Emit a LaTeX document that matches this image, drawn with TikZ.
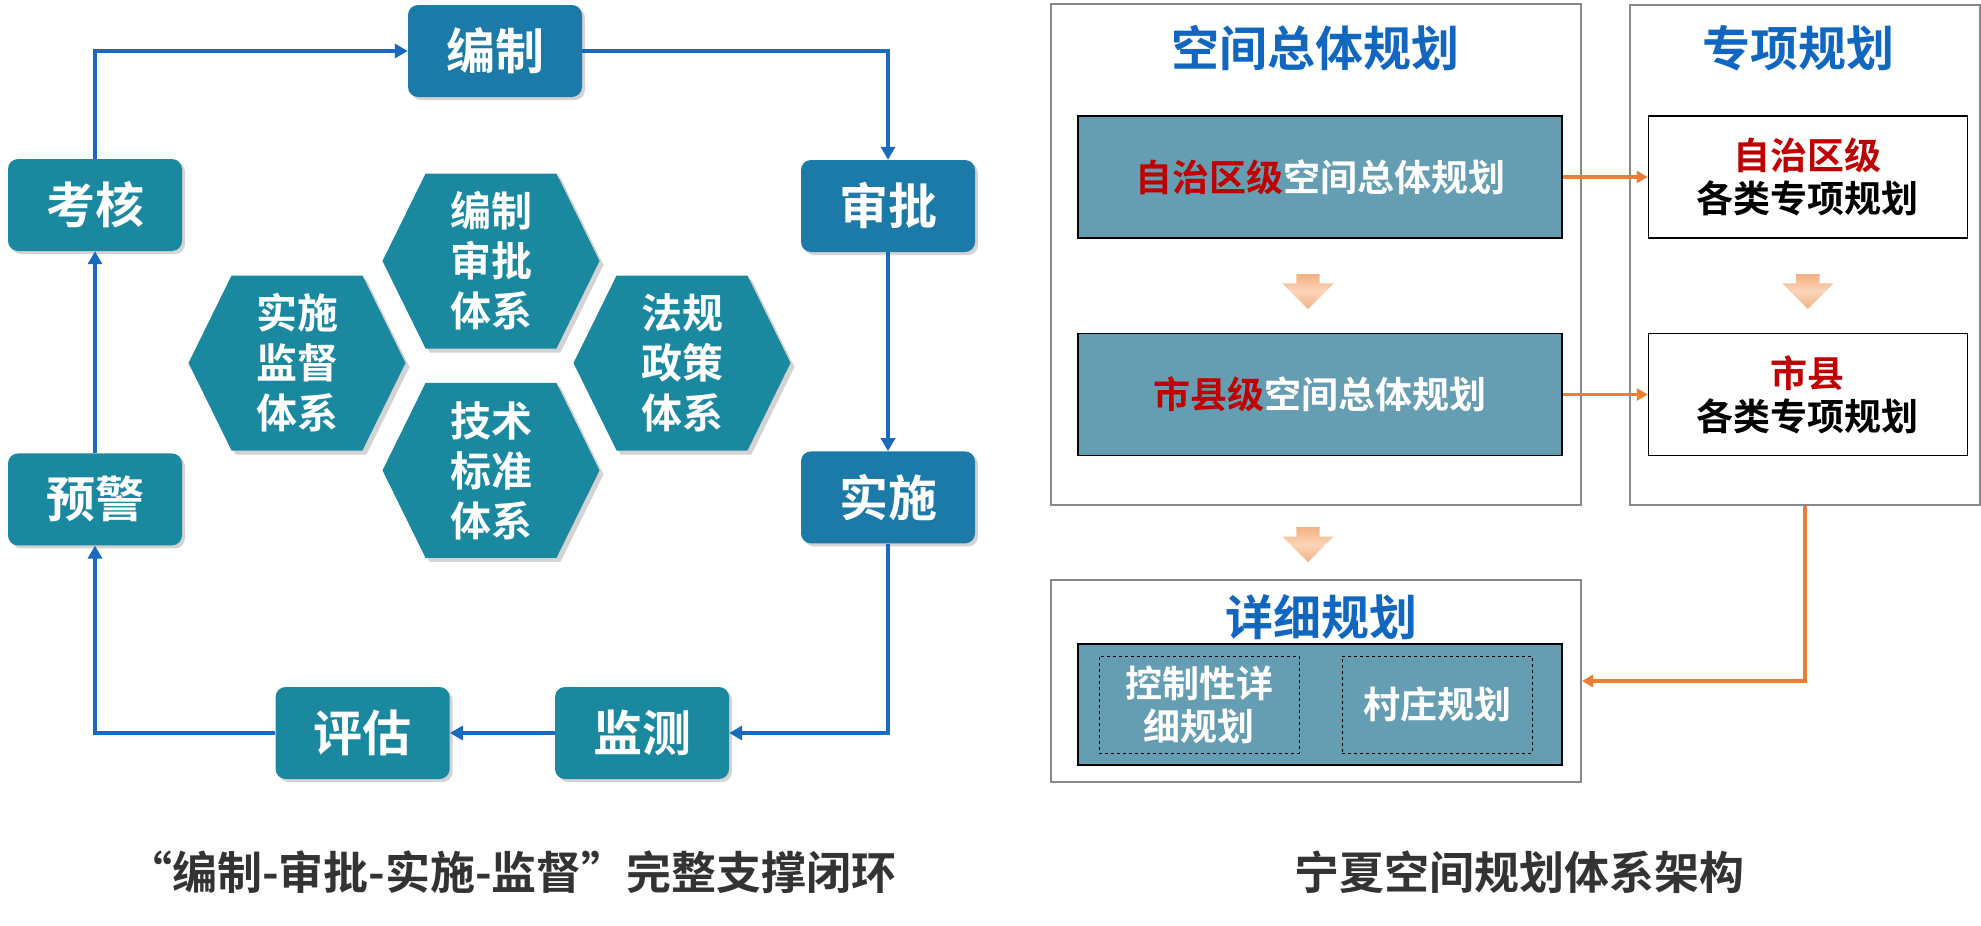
\documentclass[tikz,border=0pt]{standalone}
\usepackage{fontspec}
\setmainfont{Noto Sans CJK SC}[BoldFont={* Bold}]
\usepackage{tikz}
\usetikzlibrary{arrows.meta,positioning,shapes.symbols,shapes.arrows,shadows,calc}
\definecolor{stageblue}{RGB}{27,122,168}
\definecolor{stageteal}{RGB}{26,137,160}
\definecolor{loopblue}{RGB}{25,105,190}
\definecolor{titleblue}{RGB}{17,102,192}
\definecolor{planteal}{RGB}{101,158,178}
\definecolor{darkred}{RGB}{192,0,0}
\definecolor{accentorange}{RGB}{237,125,49}
\definecolor{lightorange}{RGB}{244,177,131}
\definecolor{paleorange}{RGB}{250,212,185}
\definecolor{framegray}{RGB}{136,136,136}
\definecolor{captiongray}{RGB}{51,51,51}

\begin{document}
\begin{tikzpicture}[x=1pt, y=-1pt,
    stage/.style={rounded corners=10pt, fill=stageteal, minimum width=174pt, minimum height=92pt, text=white, font=\fontsize{49}{56}\selectfont\bfseries, drop shadow={shadow xshift=3pt, shadow yshift=-3pt, opacity=0.35}},
    keystage/.style={stage, fill=stageblue},
    hexa/.style={signal, signal to=east and west, signal pointer angle=127.6, fill=stageteal, minimum width=217pt, minimum height=175pt, inner sep=0pt, text=white, align=center, font=\fontsize{41}{50}\selectfont\bfseries, drop shadow={shadow xshift=4pt, shadow yshift=-4pt, opacity=0.35}},
    loopflow/.style={-{Triangle[length=13pt, width=14pt]}, line width=4pt, loopblue},
    branchflow/.style={-{Triangle[length=11pt, width=12pt]}, line width=3.5pt, accentorange},
    frame/.style={draw=framegray, line width=2pt},
    paneltitle/.style={text=titleblue, font=\fontsize{48}{48}\selectfont\bfseries},
    planbox/.style={draw=black, line width=1.5pt, fill=planteal, minimum width=484pt, minimum height=122pt, text=white, font=\fontsize{37}{44}\selectfont\bfseries},
    specbox/.style={draw=black, line width=1.2pt, fill=white, minimum width=319pt, minimum height=122pt, align=center, font=\fontsize{37}{43}\selectfont\bfseries},
    subbox/.style={draw=black, dashed, line width=0.8pt, minimum height=97pt, text=white, align=center, font=\fontsize{37}{43}\selectfont\bfseries},
    downarrow/.style={single arrow, rotate=-90, minimum height=35pt, inner xsep=0pt, inner ysep=11.5pt, single arrow head extend=14pt, single arrow head indent=0pt, top color=lightorange, bottom color=lightorange, middle color=paleorange},
    caption/.style={text=captiongray, font=\fontsize{45}{45}\selectfont\bfseries}
]
    \useasboundingbox (0,0) rectangle (1981,926);

    % closed loop
    \node[keystage] (bianzhi) at (495,51) {编制};
    \node[keystage] (shenpi) at (888,206) {审批};
    \node[keystage, below=199pt of shenpi] (shishi) {实施};
    \node[stage] (jiance) at (642,733) {监测};
    \node[stage, left=105pt of jiance] (pinggu) {评估};
    \node[stage] (kaohe) at (95,205) {考核};
    \node[stage, below=202pt of kaohe] (yujing) {预警};

    \draw[loopflow] (kaohe.north) |- (bianzhi.west);
    \draw[loopflow] (bianzhi.east) -| (shenpi.north);
    \draw[loopflow] (shenpi) -- (shishi);
    \draw[loopflow] (shishi.south) |- (jiance.east);
    \draw[loopflow] (jiance) -- (pinggu);
    \draw[loopflow] (pinggu.west) -| (yujing.south);
    \draw[loopflow] (yujing) -- (kaohe);

    \node[hexa] (hxtop) at (491,261) {编制\\审批\\体系};
    \node[hexa, below=34pt of hxtop] (hxbot) {技术\\标准\\体系};
    \node[hexa] (hxleft) at (297,363) {实施\\监督\\体系};
    \node[hexa] (hxright) at (682,363) {法规\\政策\\体系};

    % planning system
    \node[frame, minimum width=530pt, minimum height=501pt] (kjzt) at (1316,254.5) {};
    \node[frame, minimum width=350pt, minimum height=500pt] (zxgh) at (1805,255) {};
    \node[frame, minimum width=530pt, minimum height=202pt] (xxgh) at (1316,681) {};

    \node[paneltitle] (kjztname) at (1315,48) {空间总体规划};
    \node[paneltitle] (zxghname) at (1798,48) {专项规划};
    \node[paneltitle] (xxghname) at (1321,617) {详细规划};

    \node[planbox] (zzq) at (1320,177) {{\color{darkred}自治区级}空间总体规划};
    \node[planbox, below=94pt of zzq] (sxj) {{\color{darkred}市县级}空间总体规划};
    \node[specbox, right=85pt of zzq] (zxzzq) {{\color{darkred}自治区级}\\各类专项规划};
    \node[specbox, right=85pt of sxj] (zxsx) {{\color{darkred}市县}\\各类专项规划};

    \node[downarrow] (down1) at ($(zzq.south)!0.5!(sxj.north)+(-12,0)$) {};
    \node[downarrow] (down2) at ($(zxzzq.south)!0.5!(zxsx.north)$) {};
    \node[downarrow] (down3) at ($(kjzt.south)!0.45!(xxgh.north)+(-8,0)$) {};

    \node[planbox, minimum height=121pt] (xxin) at (1320,704.5) {};
    \node[subbox, minimum width=200pt] (kgxx) at (1199,704.5) {控制性详\\细规划};
    \node[subbox, minimum width=190pt] (czgh) at (1437,704.5) {村庄规划};

    \draw[branchflow] (zzq) -- (zxzzq);
    \draw[branchflow] (sxj) -- (zxsx);
    \draw[branchflow] (zxgh.south) |- (xxgh.east);

    \node[caption] (loopcap) at (512,872) {“编制-审批-实施-监督”完整支撑闭环};
    \node[caption] (syscap) at (1519,872) {宁夏空间规划体系架构};
\end{tikzpicture}
\end{document}
